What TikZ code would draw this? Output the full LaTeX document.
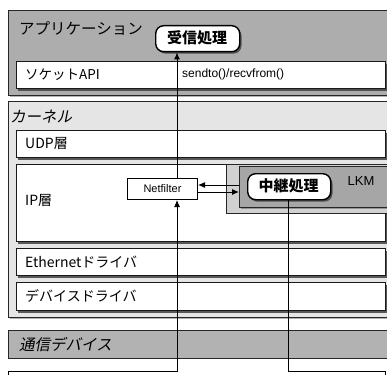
\documentclass[tikz,border=0pt]{standalone}
\usepackage{fontspec}
\setmainfont{Liberation Sans}
\newfontfamily\jp{Noto Sans CJK JP}
\newfontfamily\jpit[FakeSlant=0.2]{Noto Sans CJK JP}
\usetikzlibrary{shadows,arrows.meta}
\tikzset{
  layerbox/.style={draw=black!90, line width=1.3pt, fill=white, rectangle, inner sep=0pt, anchor=north west,
    drop shadow={shadow xshift=1.5pt, shadow yshift=-2pt, fill=black!75, opacity=0.85}},
  areabox/.style={draw=black!85, line width=1.1pt, rectangle, inner sep=0pt, anchor=north west},
  procbox/.style={draw=black, line width=1.4pt, fill=white, rounded corners=8pt, inner sep=0pt, anchor=north west,
    drop shadow={shadow xshift=1.8pt, shadow yshift=-2pt, fill=black!75, opacity=0.85}},
  lbl/.style={anchor=west, inner sep=0pt, font=\jp\fontsize{14}{14}\selectfont},
  path/.style={draw=black, line width=1pt},
  arr/.style={-{Latex[length=7pt,width=6pt]}},
}
\begin{document}
\begin{tikzpicture}[x=1pt,y=-1pt]
\useasboundingbox (0,0) rectangle (387,374);
\begin{scope}
\clip (0,0) rectangle (387,374);
% application area
\node[areabox, fill=black!32, minimum width=386pt, minimum height=85pt,
  drop shadow={shadow xshift=1pt, shadow yshift=-1.5pt, fill=black!60}] (app) at (8,10) {};
\node[lbl, font=\jp\fontsize{15.5}{15.5}\selectfont] (apptxt) at (19,28) {アプリケーション};
\node[procbox, minimum width=84pt, minimum height=26pt] (recv) at (155,25) {};
\node[inner sep=0pt, font=\jp\bfseries\fontsize{15}{15}\selectfont] (recvtxt) at (197,38) {受信処理};
\node[layerbox, minimum width=369pt, minimum height=27pt] (sock) at (16,61) {};
\node[lbl, font=\jp\fontsize{13.5}{13.5}\selectfont] (socktxt) at (25,74.5) {ソケットAPI};
\node[anchor=west, inner sep=0pt, font=\fontsize{12}{12}\selectfont] (sendtxt) at (182,74.5) {sendto()/recvfrom()};
% kernel area
\node[areabox, fill=black!10, minimum width=386pt, minimum height=216pt,
  drop shadow={shadow xshift=1pt, shadow yshift=-1.5pt, fill=black!60}] (kern) at (8,101) {};
\node[lbl, font=\jpit\fontsize{15.5}{15.5}\selectfont] (kerntxt) at (10,117) {カーネル};
\node[layerbox, minimum width=369pt, minimum height=27pt] (udp) at (16,130) {};
\node[lbl] (udptxt) at (25,144) {UDP層};
\node[layerbox, minimum width=369pt, minimum height=77pt] (ip) at (16,164) {};
\node[lbl] (iptxt) at (25,201) {IP層};
\node[areabox, fill=black!18, line width=1.2pt, minimum width=165pt, minimum height=49pt] (cut) at (226,164) {};
\node[areabox, fill=black!35, line width=1.2pt, minimum width=150pt, minimum height=41pt,
  drop shadow={shadow xshift=1.2pt, shadow yshift=-1.8pt, fill=black!65}] (lkm) at (239,166) {};
\node[inner sep=0pt, font=\fontsize{13}{13}\selectfont] (lkmtxt) at (361,181) {LKM};
\node[procbox, minimum width=83pt, minimum height=26pt] (relay) at (247,173) {};
\node[inner sep=0pt, font=\jp\bfseries\fontsize{15}{15}\selectfont] (relaytxt) at (288.5,186) {中継処理};
\node[draw=black, line width=1pt, fill=white, anchor=north west, minimum width=70pt, minimum height=21pt,
  inner sep=0pt, font=\fontsize{11}{11}\selectfont] (nf) at (127,178) {Netfilter};
\node[layerbox, minimum width=369pt, minimum height=27pt] (eth) at (16,248) {};
\node[lbl] (ethtxt) at (25,262) {Ethernetドライバ};
\node[layerbox, minimum width=369pt, minimum height=28pt] (dev) at (16,282) {};
\node[lbl] (devtxt) at (25,296) {デバイスドライバ};
% communication device
\node[areabox, fill=black!30, minimum width=386pt, minimum height=28pt] (comm) at (8,330) {};
\node[lbl, font=\jpit\fontsize{15.5}{15.5}\selectfont] (commtxt) at (19,345) {通信デバイス};
% connectors
\coordinate (inA) at (8,380);
\coordinate (inB) at (8,371);
\coordinate (outA) at (385,371);
\coordinate (outB) at (385,380);
\draw[path, arr] (inA) -- (inB) -- (177,371) -- (nf.south -| 177,0);
\draw[path, arr] (nf.north -| 177,0) -- (recv.south -| 177,0);
\draw[path, arr] (lkm.west |- 0,185) -- (nf.east |- 0,185);
\draw[path, arr] (nf.east |- 0,192) -- (lkm.west |- 0,192);
\draw[path] (relay.south -| 288,0) -- (288,371) -- (outA) -- (outB);
\end{scope}
\end{tikzpicture}
\end{document}
